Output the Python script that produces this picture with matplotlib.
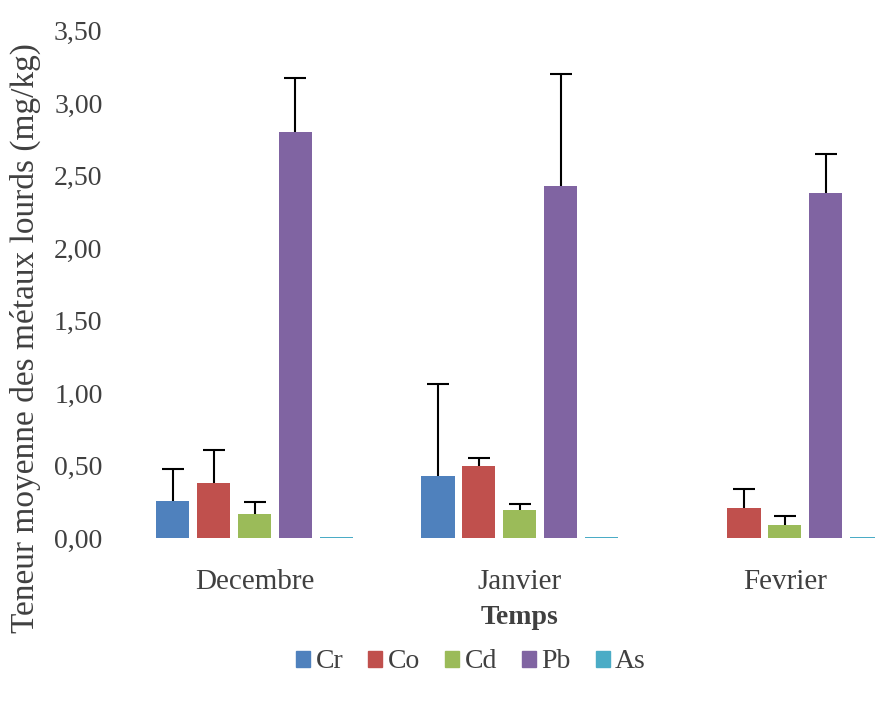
import numpy as np
import matplotlib
matplotlib.use('Agg')
import matplotlib.pyplot as plt
from matplotlib.patches import Patch

plt.rcParams['font.family'] = ['Liberation Serif', 'DejaVu Serif']

# Données
mois = ['Decembre', 'Janvier', 'Fevrier']
metaux = ['Cr', 'Co', 'Cd', 'Pb', 'As']
cr = [0.255, 0.43, 0.0]
co = [0.38, 0.50, 0.21]
cd = [0.165, 0.19, 0.09]
pb = [2.80, 2.43, 2.38]
as_ = [0.008, 0.008, 0.008]
cr_err = [0.22, 0.63, 0.0]
co_err = [0.23, 0.05, 0.13]
cd_err = [0.085, 0.045, 0.06]
pb_err = [0.37, 0.77, 0.27]
as_err = [0.0, 0.0, 0.0]
yticks = [0, 0.5, 1.0, 1.5, 2.0, 2.5, 3.0, 3.5]

valeurs = [cr, co, cd, pb, as_]
erreurs = [cr_err, co_err, cd_err, pb_err, as_err]
couleurs = ['#4F81BD', '#C0504D', '#9BBB59', '#8064A2', '#4BACC6']

fig = plt.figure(figsize=(8.75, 7.05), dpi=100)
ax = fig.add_axes([122 / 875, 167 / 705, 753 / 875, 507.5 / 705])

x = np.arange(len(mois))
pas = 0.154
largeur = 0.125
for i, (v, e, c) in enumerate(zip(valeurs, erreurs, couleurs)):
    pos = x + (i - 2) * pas
    ax.bar(pos, v, width=largeur, color=c, label=metaux[i])
    e = np.array(e)
    m = e > 0
    if m.any():
        _, caps, _ = ax.errorbar(pos[m], np.array(v)[m], yerr=[np.zeros(m.sum()), e[m]],
                                 fmt='none', ecolor='black', elinewidth=1.5,
                                 capsize=8, capthick=1.5)
        # seulement le chapeau du haut, comme dans Excel
        caps[0].set_visible(False)

ax.set_xlim(-0.5, 2.34)
ax.set_ylim(0, 3.5)
ax.set_yticks(yticks)
ax.set_yticklabels([f'{t:.2f}'.replace('.', ',') for t in yticks])
ax.set_xticks(x)
ax.set_xticklabels(mois)
ax.tick_params(axis='y', length=0, pad=14, labelsize=20, labelcolor='#404040')
ax.tick_params(axis='x', length=0, pad=22, labelsize=21, labelcolor='#404040')
for s in ax.spines.values():
    s.set_visible(False)

fig.text(0.594, (705 - 618) / 705, 'Temps', ha='center', va='center',
         fontsize=20, fontweight='bold', color='#404040')
fig.text(25 / 875, (705 - 338) / 705, 'Teneur moyenne des métaux lourds (mg/kg)',
         rotation=90, ha='center', va='center', fontsize=24, color='#404040')

poignees = [Patch(color=c) for c in couleurs]
fig.legend(poignees, metaux, loc='center', bbox_to_anchor=(471 / 875, (705 - 662) / 705),
           ncol=5, frameon=False, fontsize=20, handlelength=0.5, handleheight=0.5,
           handletextpad=0.2, columnspacing=0.9, labelcolor='#404040')

fig.savefig('out.png', dpi=100)
